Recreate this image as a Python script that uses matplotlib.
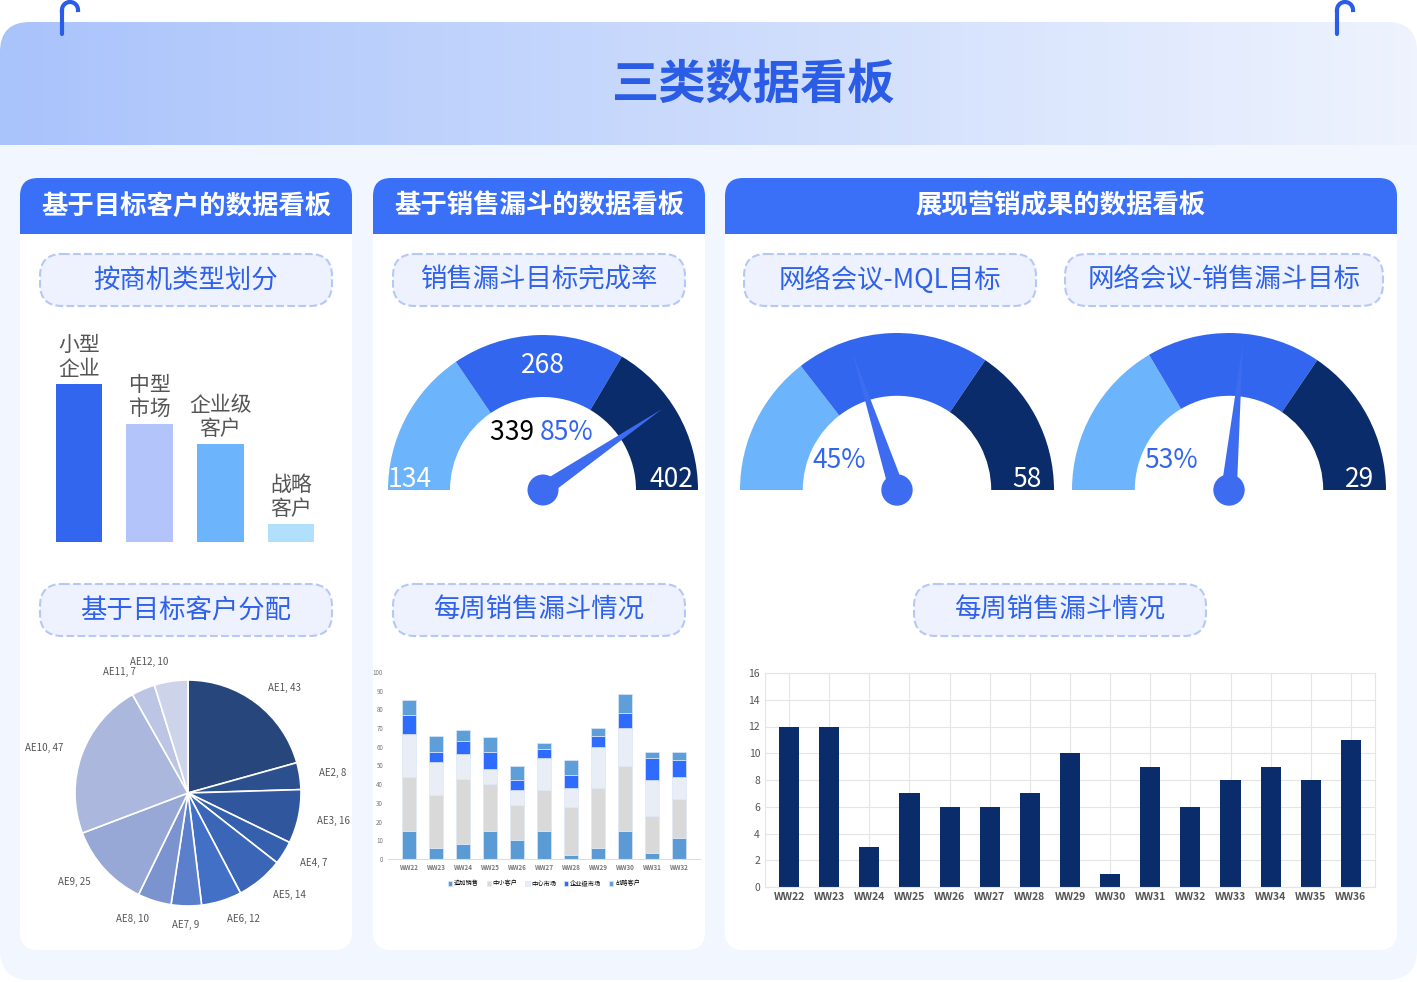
import matplotlib
matplotlib.use("Agg")
import matplotlib.pyplot as plt
import numpy as np
from matplotlib.patches import FancyBboxPatch, Wedge, Polygon, Circle, Rectangle

plt.rcParams['font.family'] = ['Noto Sans CJK SC', 'DejaVu Sans']

W, H = 1417, 982

# ---- data ----
seg_cats = ['小型\n企业', '中型\n市场', '企业级\n客户', '战略\n客户']
seg_vals = [158, 118, 98, 18]
seg_colors = ['#3366ee', '#b3c4fb', '#6cb4fb', '#b0e0fb']

pie_labels = ['AE1', 'AE2', 'AE3', 'AE4', 'AE5', 'AE6', 'AE7', 'AE8', 'AE9', 'AE10', 'AE11', 'AE12']
pie_vals = [43, 8, 16, 7, 14, 12, 9, 10, 25, 47, 7, 10]
pie_colors = ['#27477c', '#2c4f8e', '#30569e', '#3560ae', '#3b66b8', '#4270c6',
              '#5b7fcb', '#7b93cf', '#97a8d6', '#abb7dd', '#bcc5e4', '#cdd4ea']

weeks_a = ['WW22', 'WW23', 'WW24', 'WW25', 'WW26', 'WW27', 'WW28', 'WW29', 'WW30', 'WW31', 'WW32']
stack_names = ['追加销售', '中小客户', '中心市场', '企业级市场', '战略客户']
stack_vals = [
    [15, 6, 8, 15, 10, 15, 2, 6, 15, 3, 11],
    [29, 28, 35, 25, 19, 22, 26, 32, 35, 20, 21],
    [23, 18, 13, 8, 8, 17, 10, 22, 20, 19, 12],
    [10, 5, 7, 9, 5, 5, 7, 6, 8, 12, 9],
    [8, 9, 6, 8, 8, 3, 8, 4, 10, 3, 4],
]
stack_colors = ['#5b9bd5', '#d9d9d9', '#e9edf6', '#2e6bff', '#5f9fd9']

weeks_b = ['WW22', 'WW23', 'WW24', 'WW25', 'WW26', 'WW27', 'WW28', 'WW29', 'WW30',
           'WW31', 'WW32', 'WW33', 'WW34', 'WW35', 'WW36']
week_vals = [12, 12, 3, 7, 6, 6, 7, 10, 1, 9, 6, 8, 9, 8, 11]

# gauges: segment boundaries as fractions, needle fraction
gauge1_bounds = [0.31, 0.67]
gauge1_needle = 0.81
gauge2_bounds = [0.29, 0.69]
gauge2_needle = 0.40
gauge3_bounds = [0.33, 0.69]
gauge3_needle = 0.53

LIGHT, MID, DARK = '#6cb4fb', '#3366ee', '#0b2c6b'
BLUE = '#3a6ff7'

fig = plt.figure(figsize=(W / 100, H / 100), dpi=100)
bg = fig.add_axes([0, 0, 1, 1])
bg.set_xlim(0, W)
bg.set_ylim(H, 0)
bg.axis('off')


def px_axes(x, y, w, h):
    return fig.add_axes([x / W, 1 - (y + h) / H, w / W, h / H])


# header gradient
grad = np.linspace(0, 1, 256).reshape(1, -1)
bg.add_patch(FancyBboxPatch((0, 22), W, 958, boxstyle='round,pad=0,rounding_size=30',
                            fc='#f2f6fe', ec='none', zorder=0))
im = bg.imshow(np.vstack([grad] * 2), extent=[0, W, 145, 22], aspect='auto',
               cmap=matplotlib.colors.LinearSegmentedColormap.from_list('g', ['#a9c3fb', '#eef3fe']),
               zorder=0.5)
im.set_clip_path(FancyBboxPatch((0, 22), W, 300, boxstyle='round,pad=0,rounding_size=30',
                                transform=bg.transData))
bg.text(753, 85, '三类数据看板', fontsize=34, fontweight='bold', color='#2b5ce6',
        ha='center', va='center')
for cx in (70, 1345):
    bg.plot([cx - 8, cx - 8], [10, 34], color='#2b5ce6', lw=3, solid_capstyle='round')
    t = np.linspace(np.pi, 2 * np.pi, 30)
    bg.plot(cx + 8 * np.cos(t), 10 + 8 * np.sin(t), color='#2b5ce6', lw=3)

# panels
panels = [(20, 352, '基于目标客户的数据看板'), (373, 705, '基于销售漏斗的数据看板'),
          (725, 1397, '展现营销成果的数据看板')]
for x0, x1, title in panels:
    bg.add_patch(FancyBboxPatch((x0, 178), x1 - x0, 772, boxstyle='round,pad=0,rounding_size=18',
                                fc='white', ec='none', zorder=1))
    bg.add_patch(FancyBboxPatch((x0, 178), x1 - x0, 56, boxstyle='round,pad=0,rounding_size=18',
                                fc=BLUE, ec='none', zorder=2))
    bg.add_patch(Rectangle((x0, 210), x1 - x0, 24, fc=BLUE, ec='none', zorder=2))
    bg.text((x0 + x1) / 2, 206, title, fontsize=19, fontweight='bold', color='white',
            ha='center', va='center', zorder=3)


def pill(cx, cy, w, text):
    bg.add_patch(FancyBboxPatch((cx - w / 2, cy - 26), w, 52, boxstyle='round,pad=0,rounding_size=22',
                                fc='#edf2fe', ec='#b8c8f5', lw=1.5, ls='--', zorder=3))
    bg.text(cx, cy, text, fontsize=19, fontweight='medium', color='#2f62e8',
            ha='center', va='center', zorder=4)


pill(186, 280, 292, '按商机类型划分')
pill(539, 280, 292, '销售漏斗目标完成率')
pill(890, 280, 292, '网络会议-MQL目标')
pill(1224, 280, 318, '网络会议-销售漏斗目标')
pill(186, 610, 292, '基于目标客户分配')
pill(539, 610, 292, '每周销售漏斗情况')
pill(1060, 610, 292, '每周销售漏斗情况')

# segment bar chart
ax = px_axes(40, 320, 290, 222)
xs = np.arange(len(seg_vals))
ax.bar(xs, seg_vals, width=0.66, color=seg_colors)
for i, (c, v) in enumerate(zip(seg_cats, seg_vals)):
    ax.text(i, v + 4, c, ha='center', va='bottom', fontsize=15, color='#555555', linespacing=1.1)
ax.set_xlim(-0.55, 3.55)
ax.set_ylim(0, 222)
ax.axis('off')

# pie
ax = px_axes(75, 680, 226, 226)
ax.pie(pie_vals, colors=pie_colors, startangle=90, counterclock=False,
       wedgeprops=dict(ec='white', lw=1.2))
ang = 90.0
total = sum(pie_vals)
for lab, v in zip(pie_labels, pie_vals):
    mid = np.deg2rad(ang - v / total * 180)
    ang -= v / total * 360
    r = 1.17
    ha = 'left' if np.cos(mid) > 0.05 else ('right' if np.cos(mid) < -0.05 else 'center')
    ax.text(r * np.cos(mid), r * np.sin(mid), f'{lab}, {v}', fontsize=7, color='#555555',
            ha=ha, va='center')
ax.set_xlim(-1, 1)
ax.set_ylim(-1, 1)


def gauge(cx, cy, r, bounds, needle, labels):
    ax = px_axes(cx - r, cy - r, 2 * r, r + 22)
    ax.set_xlim(-1, 1)
    ax.set_ylim(-22 / r, 1)
    ax.axis('off')
    edges = [0] + bounds + [1]
    for (a, b), col in zip(zip(edges[:-1], edges[1:]), [LIGHT, MID, DARK]):
        ax.add_patch(Wedge((0, 0), 1, 180 - b * 180, 180 - a * 180, width=0.4, fc=col, ec='none'))
    th = np.deg2rad(180 - needle * 180)
    tip = 0.93 * np.array([np.cos(th), np.sin(th)])
    nrm = 0.05 * np.array([-np.sin(th), np.cos(th)])
    ax.add_patch(Polygon([tip, nrm, -nrm], fc='#3d6cf0', ec='none', zorder=5))
    ax.add_patch(Circle((0, 0), 0.1, fc='#3d6cf0', ec='none', zorder=6))
    for x, y, s, c in labels:
        ax.text(x, y, s, fontsize=19, fontweight='medium', color=c, ha='center', va='center', zorder=7)
    return ax


g1 = gauge(543, 490, 155, gauge1_bounds, gauge1_needle,
           [(0, 0.8, '268', 'white'), (-0.86, 0.07, '134', 'white'), (0.83, 0.07, '402', 'white')])
g1.text(-0.02, 0.37, '339 ', fontsize=19, fontweight='medium', color='black', ha='right', va='center')
g1.text(-0.02, 0.37, '85%', fontsize=19, fontweight='medium', color='#3366ee', ha='left', va='center')
gauge(897, 490, 157, gauge2_bounds, gauge2_needle,
      [(-0.37, 0.19, '45%', '#3366ee'), (0.83, 0.07, '58', 'white')])
gauge(1229, 490, 157, gauge3_bounds, gauge3_needle,
      [(-0.37, 0.19, '53%', '#3366ee'), (0.83, 0.07, '29', 'white')])

# stacked bar chart
ax = px_axes(388, 672, 312, 187)
x = np.arange(len(weeks_a))
bottom = np.zeros(len(weeks_a))
for name, vals, col in zip(stack_names, stack_vals, stack_colors):
    ax.bar(x, vals, bottom=bottom, width=0.5, color=col, ec='#dde6f7', lw=0.5, label=name)
    bottom += np.array(vals)
ax.set_ylim(0, 100)
ax.set_yticks(range(0, 101, 10))
ax.set_xticks(x, weeks_a)
ax.tick_params(labelsize=4.5, length=0, colors='#777777')
for lbl in ax.get_xticklabels():
    lbl.set_fontweight('bold')
for s in ['top', 'right', 'left']:
    ax.spines[s].set_visible(False)
ax.spines['bottom'].set_color('#dddddd')
ax.legend(loc='upper center', bbox_to_anchor=(0.5, -0.08), ncol=5, fontsize=4.5, frameon=False,
          handlelength=0.7, handleheight=0.7, columnspacing=1.2, handletextpad=0.3)

# weekly bars
ax = px_axes(765, 673, 610, 214)
x = np.arange(len(weeks_b))
ax.bar(x, week_vals, width=0.5, color=DARK)
ax.set_ylim(0, 16)
ax.set_xlim(-0.6, len(weeks_b) - 0.4)
ax.set_yticks(range(0, 17, 2))
ax.set_xticks(x, weeks_b)
ax.tick_params(labelsize=7.5, length=0, colors='#555555')
for lbl in ax.get_xticklabels():
    lbl.set_fontweight('bold')
ax.grid(color='#e5e5e5', lw=0.8)
ax.set_axisbelow(True)
for s in ax.spines.values():
    s.set_color('#e5e5e5')

fig.savefig('out.png', dpi=100)
